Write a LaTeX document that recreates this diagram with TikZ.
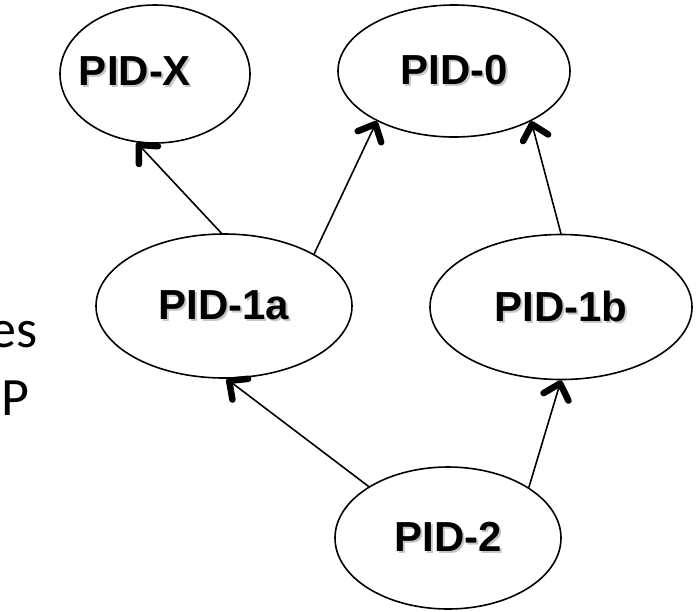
\documentclass[tikz,border=0pt]{standalone}
\usepackage{fontspec}
\setmainfont{Liberation Sans}
\newfontfamily\slidefont{Carlito}
\usetikzlibrary{shapes.geometric,arrows.meta}
\newcommand\pidtext[1]{\makebox[0pt][l]{\hspace{2pt}\raisebox{-2pt}{\color{black!22}#1}}#1}

\begin{document}
\begin{tikzpicture}[
  x = 1pt, y = -1pt,
  line width = 1.6pt,
  pid/.style={draw, ellipse, inner sep=0pt, font=\bfseries\fontsize{42}{42}\selectfont},
  link/.style={-{Straight Barb[length=14pt, width=26pt, line width=6.5pt, round]}},
  slide/.style={font=\slidefont\fontsize{54}{54}\selectfont}]
\useasboundingbox (0,0) rectangle (696,611);
\clip (0,0) rectangle (696,611);
% what is left of the slide text
\node[slide, anchor=base east] (es) at (42,347) {es};
\node[slide, anchor=base west] (p) at (-3,415) {P};
% processes
\node[pid, minimum width=190pt, minimum height=138pt] (pidx) at (155,74) {};
\node[font=\bfseries\fontsize{42}{42}\selectfont] (pidxtext) at (135,72) {\pidtext{PID-X}};
\node[pid, minimum width=232pt, minimum height=132pt] (pid0) at (454,71) {\pidtext{PID-0}};
\node[pid, minimum width=256pt, minimum height=144pt] (pid1a) at (224,306) {\pidtext{PID-1a}};
\node[pid, minimum width=262pt, minimum height=145pt] (pid1b) at (561,307) {\pidtext{PID-1b}};
\node[pid, minimum width=226pt, minimum height=142pt] (pid2) at (448,538) {\pidtext{PID-2}};
% parents
\draw[link] (pid1a.92) -- (pidx.255);
\draw[link] (pid1a.30) -- (pid0.213);
\draw[link] (pid1b.90) -- (pid0.327);
\draw[link] (pid2.147) -- (pid1a.272);
\draw[link] (pid2.32) -- (pid1b.270);
\end{tikzpicture}
\end{document}
